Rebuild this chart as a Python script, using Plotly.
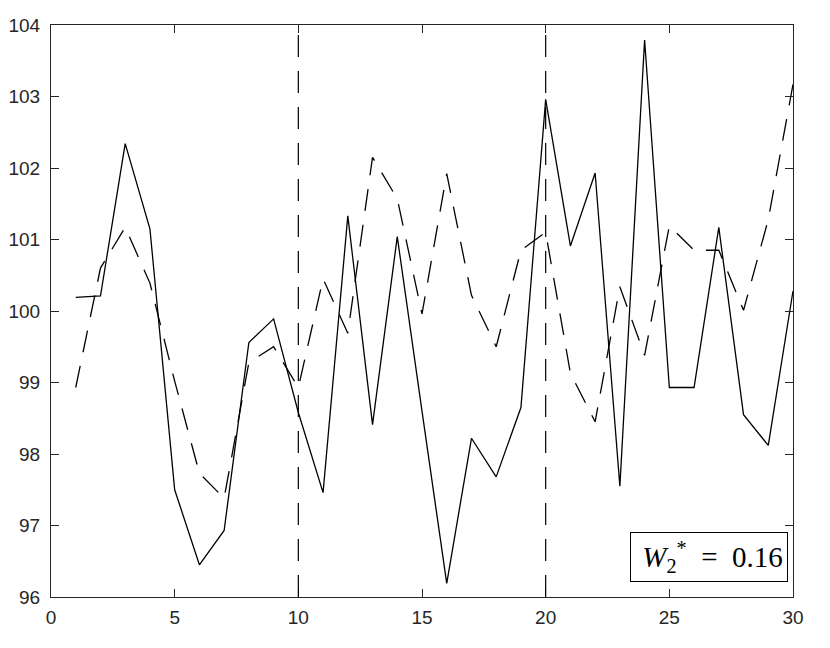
import plotly.graph_objects as go

x_vals = list(range(1, 31))
solid_series = [100.19, 100.21, 102.34, 101.15, 97.50, 96.45, 96.93, 99.56, 99.89, 98.58,
                97.46, 101.33, 98.41, 101.04, 98.60, 96.19, 98.22, 97.68, 98.65, 102.96,
                100.91, 101.93, 97.55, 103.79, 98.93, 98.93, 101.17, 98.55, 98.12, 100.28]
dashed_series = [98.93, 100.60, 101.17, 100.39, 99.02, 97.73, 97.38, 99.28, 99.50, 98.93,
                 100.45, 99.69, 102.15, 101.57, 99.96, 101.92, 100.22, 99.50, 100.85, 101.10,
                 99.13, 98.45, 100.34, 99.38, 101.19, 100.85, 100.85, 100.01, 101.28, 103.17]
vline_positions = [10, 20]
x_ticks = [0, 5, 10, 15, 20, 25, 30]
y_ticks = [96, 97, 98, 99, 100, 101, 102, 103, 104]
label_text = "&nbsp;<i>W</i><sub>2</sub><sup>*</sup>&nbsp; = &nbsp;0.16"

AX = "#262626"
DASH = "22px,14px"

fig = go.Figure()
fig.add_trace(go.Scatter(x=x_vals, y=solid_series, mode="lines",
                         line=dict(color="black", width=1.3), showlegend=False,
                         hoverinfo="skip"))
fig.add_trace(go.Scatter(x=x_vals, y=dashed_series, mode="lines",
                         line=dict(color="black", width=1.3, dash=DASH), showlegend=False,
                         hoverinfo="skip"))
for v in vline_positions:
    fig.add_vline(x=v, line=dict(color="black", width=1.2, dash=DASH), layer="above")

fig.add_annotation(xref="paper", yref="paper", x=0.9935, y=0.026,
                   xanchor="right", yanchor="bottom", text=label_text, showarrow=False,
                   font=dict(family="Liberation Serif", size=29, color="black"),
                   bgcolor="white", bordercolor="black", borderwidth=1, borderpad=4)

axis_common = dict(showgrid=False, zeroline=False, showline=True, linecolor=AX,
                   linewidth=1, mirror="ticks", ticks="inside", ticklen=8,
                   tickcolor=AX, tickwidth=1, automargin=False,
                   tickfont=dict(family="Liberation Sans", size=19, color=AX))
fig.update_xaxes(range=[0, 30], tickvals=x_ticks, ticklabelstandoff=3, **axis_common)
fig.update_yaxes(range=[96, 104], tickvals=y_ticks, ticklabelstandoff=6, **axis_common)

fig.update_layout(width=814, height=632, margin=dict(l=43, r=29, t=17, b=43),
                  plot_bgcolor="white", paper_bgcolor="white")
fig.write_html("out.html")
